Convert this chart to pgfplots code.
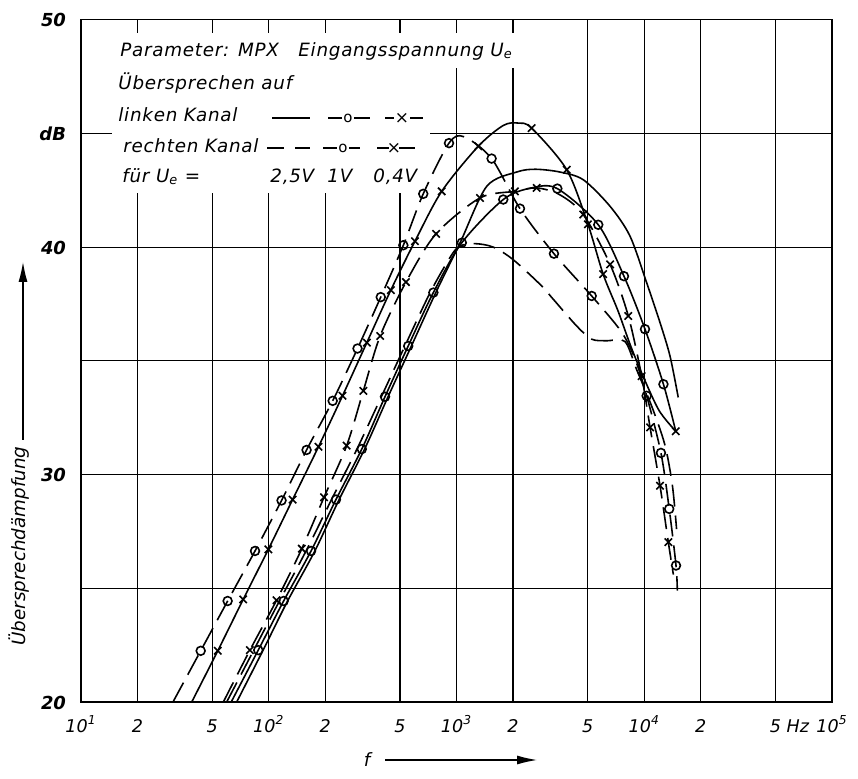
\documentclass[border=0pt]{standalone}
\usepackage{fontspec}
\setmainfont{DejaVu Sans}
\usepackage{pgfplots}
\pgfplotsset{compat=1.18}
\usetikzlibrary{arrows.meta}

\begin{document}
\begin{tikzpicture}[font=\fontsize{9.2}{11}\selectfont\itshape]
\path[use as bounding box] (-40.5bp,-38.5bp) rectangle (388.5bp,351bp);
\begin{axis}[
  scale only axis, width=375.5bp, height=341.2bp,
  xmode=log, xmin=10, xmax=100000, ymin=20, ymax=50,
  xtick={10,20,50,100,200,500,1000,2000,5000,10000,20000,50000,100000},
  xticklabels={10\textsuperscript{1},2,5,10\textsuperscript{2},2,5,10\textsuperscript{3},2,5,10\textsuperscript{4},2,5\rlap{\ Hz},10\textsuperscript{5}},
  ytick={20,25,30,35,40,45,50},
  yticklabels={20,,30,,40,dB,50},
  xminorticks=false, yminorticks=false,
  grid=major, major grid style={black, line width=0.55bp},
  axis line style={line width=0.7bp},
  major tick length=0pt,
  xticklabel style={anchor=base, yshift=-15bp, font=\fontsize{8.8}{10}\selectfont\itshape},
  yticklabel style={anchor=base east, xshift=-4bp, yshift=-3.5bp, font=\fontsize{9}{11}\selectfont\bfseries\itshape},
  every axis plot/.append style={line width=0.8bp, black},
]
\fill[white] (rel axis cs:0.041,0.746) rectangle (rel axis cs:0.465,0.980);
\fill[white] (rel axis cs:0.46,0.929) rectangle (rel axis cs:0.595,0.980);

% rechter Kanal, 1 V (dashed, circles)
\addplot[smooth, dash pattern=on 11bp off 4.5bp, mark=o, mark size=2.2bp,
  mark options={solid, fill=white},
  mark indices={2,3,4,5,6,7,8,9,10,11,12,14,15,16,17,20,21,22,23}] coordinates {
(30.9,20.0)(43.4,22.25)(60.4,24.44)(84.5,26.64)(117,28.86)(159,31.08)(219,33.24)(297,35.54)(395,37.8)(521,40.08)(665,42.34)(912,44.57)(1096,44.85)(1538,43.89)(2178,41.69)(3304,39.71)(5248,37.85)(7516,36.3)(8913,35.1)(10300,33.46)(12270,30.95)(13580,28.49)(14760,26.0)(15000,24.9)};

% linker Kanal, 0.4 V (solid, crosses)
\addplot[smooth, mark=x, mark size=2.6bp, mark options={solid},
  mark indices={2,3,4,5,6,7,8,9,10,11,12,15,16,17,18,23}] coordinates {
(38.9,20.0)(53.5,22.25)(73.1,24.51)(99.5,26.71)(134,28.9)(184,31.22)(247,33.46)(333,35.8)(447,38.11)(601,40.26)(834,42.45)(1306,44.43)(1778,45.35)(2138,45.45)(2512,45.23)(3864,43.4)(5012,41.0)(6039,38.81)(7244,37.2)(8511,35.6)(10000,34.2)(12020,32.8)(14720,31.9)};

% rechter Kanal, 0.4 V (dashed, crosses)
\addplot[smooth, dash pattern=on 11bp off 4.5bp, mark=x, mark size=2.6bp,
  mark options={solid},
  mark indices={2,3,4,5,6,7,8,9,10,11,12,13,15,16,17,18,19,20,21}] coordinates {
(57.3,20.0)(79.4,22.28)(110,24.47)(150,26.74)(197,29.0)(260,31.27)(319,33.68)(392,36.09)(538,38.46)(778,40.58)(1334,42.16)(2046,42.45)(2673,42.6)(3548,42.3)(4732,41.43)(6577,39.24)(8222,36.97)(9683,34.33)(10740,32.07)(12130,29.51)(13430,27.03)(14290,25.6)};

% rechter Kanal, 2.5 V (dashed)
\addplot[smooth, dash pattern=on 11bp off 4.5bp] coordinates {
(59.7,20.0)(83.2,22.28)(114,24.44)(158,26.64)(216,28.9)(295,31.12)(398,33.42)(531,35.65)(724,38.0)(933,39.6)(1045,40.05)(1259,40.15)(1567,40.0)(1995,39.46)(2786,38.36)(3281,37.7)(4365,36.53)(5248,35.95)(6310,35.88)(7889,35.85)(9120,34.6)(10960,33.0)(12880,31.3)(14130,29.5)(14860,27.6)};

% linker Kanal, 1 V (solid, circles)
\addplot[smooth, mark=o, mark size=2.2bp, mark options={solid, fill=white},
  mark indices={2,3,4,5,6,7,8,9,10,11,13,14,15,16,17}] coordinates {
(63.1,20.0)(87.9,22.28)(120,24.44)(168,26.64)(228,28.9)(313,31.12)(416,33.42)(553,35.65)(753,38.0)(1067,40.19)(1774,42.09)(2512,42.6)(3443,42.57)(5689,40.98)(7798,38.72)(10090,36.39)(12650,33.97)(14720,31.9)};

% linker Kanal, 2.5 V (solid)
\addplot[smooth] coordinates {
(67.5,20.0)(93.3,22.28)(126,24.44)(176,26.64)(237,28.9)(324,31.12)(432,33.42)(575,35.65)(776,38.0)(1045,40.19)(1449,42.67)(2094,43.3)(2630,43.42)(3548,43.3)(4732,42.96)(6577,41.79)(8395,40.48)(10300,38.43)(12130,36.68)(13710,35.21)(15170,33.39)};
\end{axis}

% legend text
\begin{scope}[every node/.style={inner sep=0pt, font=\fontsize{9.2}{11}\selectfont\itshape\addfontfeature{LetterSpace=4}}]
\node[anchor=base west] at (19.5bp,322.5bp) {Parameter: MPX};
\node[anchor=base west] at (108.5bp,322.5bp) {Eingangsspannung U\textsubscript{e}};
\node[anchor=base west] at (18.5bp,306bp) {Übersprechen auf};
\node[anchor=base west] at (18.5bp,290bp) {linken Kanal};
\node[anchor=base west] at (21bp,274.5bp) {rechten Kanal};
\node[anchor=base west] at (20.5bp,259.5bp) {für U\textsubscript{e} =};
\node[anchor=base west] at (94.5bp,259.5bp) {2,5V};
\node[anchor=base west] at (123bp,259.5bp) {1V};
\node[anchor=base west] at (146bp,259.5bp) {0,4V};
% legend samples
\draw[line width=0.8bp] (95.5bp,292bp) -- (114.5bp,292bp);
\draw[line width=0.8bp] (123.5bp,292bp) -- (144.5bp,292bp);
\node[fill=white, inner sep=0.5bp, font=\fontsize{7.5}{9}\selectfont\upshape] at (133.5bp,292bp) {o};
\draw[line width=0.8bp] (152bp,292bp) -- (171bp,292bp);
\node[fill=white, inner sep=0.3bp, font=\fontsize{8.5}{9}\selectfont\upshape] at (160.5bp,292bp) {×};
\draw[line width=0.8bp] (93bp,277bp) -- (101.5bp,277bp) (107bp,277bp) -- (114.5bp,277bp);
\draw[line width=0.8bp] (121bp,277bp) -- (128bp,277bp) (134bp,277bp) -- (139.5bp,277bp);
\node[font=\fontsize{7.5}{9}\selectfont\upshape] at (131bp,277bp) {o};
\draw[line width=0.8bp] (148bp,277bp) -- (154bp,277bp) (159bp,277bp) -- (167bp,277bp);
\node[font=\fontsize{8.5}{9}\selectfont\upshape] at (156.5bp,277bp) {×};
\end{scope}

% axis labels
\node[rotate=90, anchor=east, inner sep=0pt] at (-31bp,128bp) {Übersprechdämpfung};
\draw[-{Latex[length=10bp,width=4.5bp]}, line width=0.6bp] (-29bp,131bp) -- (-29bp,220bp);
\node[anchor=base, inner sep=0pt] at (143bp,-32bp) {f};
\draw[-{Latex[length=10bp,width=4.5bp]}, line width=0.6bp] (152bp,-29bp) -- (228bp,-29bp);
\end{tikzpicture}
\end{document}
